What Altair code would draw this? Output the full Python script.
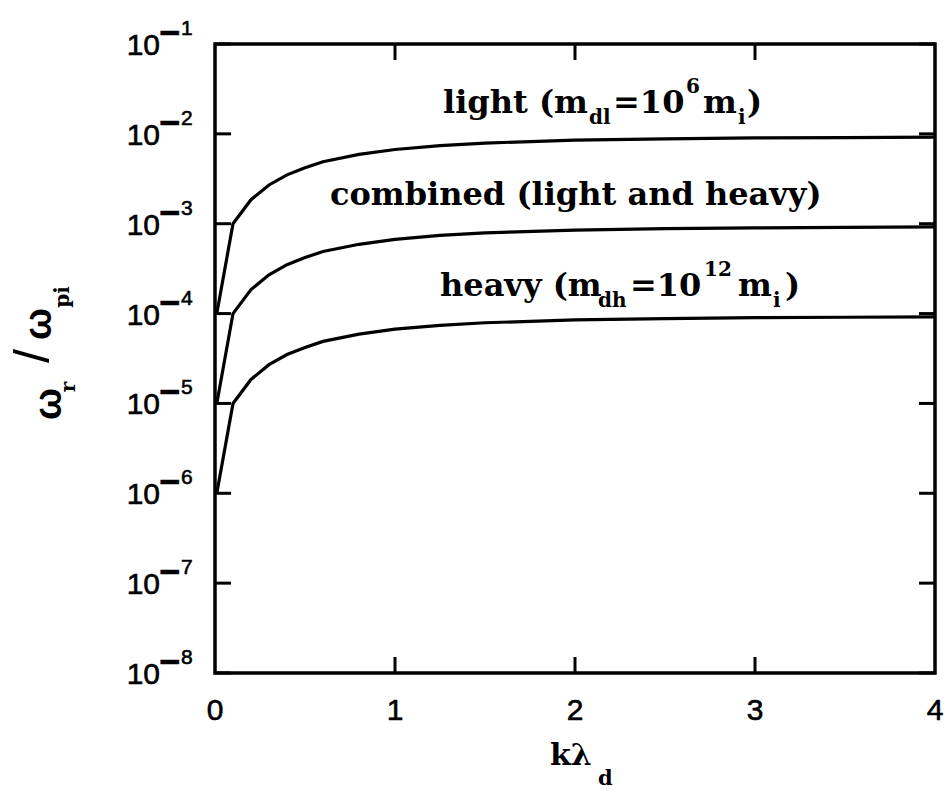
import altair as alt
import pandas as pd

# wave-number grid (k * lambda_d) and real frequency omega_r / omega_pi
k_vals = [0.01, 0.1, 0.2, 0.3, 0.4, 0.5, 0.6, 0.8, 1.0, 1.25, 1.5, 2.0, 2.5, 3.0, 3.5, 4.0]
light = [1.0e-4, 1.0e-3, 1.85e-3, 2.7e-3, 3.5e-3, 4.2e-3, 4.9e-3, 5.9e-3, 6.7e-3,
         7.4e-3, 7.9e-3, 8.5e-3, 8.8e-3, 9.0e-3, 9.1e-3, 9.2e-3]
combined = [1.0e-5, 1.0e-4, 1.85e-4, 2.7e-4, 3.5e-4, 4.2e-4, 4.9e-4, 5.9e-4, 6.7e-4,
            7.4e-4, 7.9e-4, 8.5e-4, 8.8e-4, 9.0e-4, 9.1e-4, 9.2e-4]
heavy = [1.0e-6, 1.0e-5, 1.85e-5, 2.7e-5, 3.5e-5, 4.2e-5, 4.9e-5, 5.9e-5, 6.7e-5,
         7.4e-5, 7.9e-5, 8.5e-5, 8.8e-5, 9.0e-5, 9.1e-5, 9.2e-5]

x_ticks = [0, 1, 2, 3, 4]
y_exponents = [-1, -2, -3, -4, -5, -6, -7, -8]

# curve labels: anchor (k, value) of the text start, and the text pieces
label_anchor_k = [1.267, 0.639, 1.25]
label_anchor_v = [1.71e-2, 1.63e-3, 1.55e-4]
label_pieces = [
    ["light (m", "dl", "=10", "6", "m", "i", ")"],
    ["combined (light and heavy)"],
    ["heavy (m", "dh", "=10", "12", "m", "i", ")"],
]
# role of each piece: main text, subscript or superscript
piece_roles = [
    ["main", "sub", "main", "sup", "main", "sub", "main"],
    ["main"],
    ["main", "sub", "main", "sup", "main", "sub", "main"],
]
piece_dx = [
    [0, 146, 170, 243, 260, 295, 304],
    [0],
    [0, 158, 190, 264, 298, 333, 345],
]

W, H = 720, 629
SERIF = "DejaVu Serif"
SANS = "Liberation Sans"
MAIN_SIZE, SMALL_SIZE = 32, 20
ROLE_DY = {"main": 0, "sub": 11, "sup": -20}

x_scale = alt.Scale(domain=[0, 4], nice=False, zero=False)
y_scale = alt.Scale(type="log", domain=[1e-8, 1e-1], nice=False)

rows = []
for name, vals in (("light", light), ("combined", combined), ("heavy", heavy)):
    for k, v in zip(k_vals, vals):
        rows.append({"k": k, "v": v, "series": name})
curves = pd.DataFrame(rows)

base_x = alt.X("k:Q", scale=x_scale, axis=None)
base_y = alt.Y("v:Q", scale=y_scale, axis=None)

lines = alt.Chart(curves).mark_line(color="black", strokeWidth=3.2).encode(
    x=base_x, y=base_y, detail="series:N"
)

ytick_df = pd.DataFrame({"v": [10.0 ** e for e in y_exponents],
                         "exp": [str(-e) for e in y_exponents]})
xtick_df = pd.DataFrame({"k": x_ticks, "lab": [str(t) for t in x_ticks]})
xinner_df = xtick_df[(xtick_df.k > 0) & (xtick_df.k < 4)]

TICK = 16
tick_style = dict(color="black", strokeWidth=3)
left_ticks = alt.Chart(ytick_df).mark_rule(**tick_style).encode(
    y=base_y, x=alt.value(0), x2=alt.value(TICK))
right_ticks = alt.Chart(ytick_df).mark_rule(**tick_style).encode(
    y=base_y, x=alt.value(W - TICK), x2=alt.value(W))
top_ticks = alt.Chart(xinner_df).mark_rule(**tick_style).encode(
    x=base_x, y=alt.value(0), y2=alt.value(TICK))
bottom_ticks = alt.Chart(xinner_df).mark_rule(**tick_style).encode(
    x=base_x, y=alt.value(H - TICK), y2=alt.value(H))

num_style = dict(font=SANS, color="black", stroke="black", strokeWidth=0.6,
                 baseline="alphabetic")
# "10" with a raised negative exponent
y_base_lab = alt.Chart(ytick_df).mark_text(
    fontSize=30, align="right", dy=11, **num_style
).encode(y=base_y, x=alt.value(-55), text=alt.value("10"))
y_minus_lab = alt.Chart(ytick_df).mark_text(
    fontSize=36, fontWeight="bold", align="left", dy=1, **num_style
).encode(y=base_y, x=alt.value(-56), text=alt.value("\u2212"))
y_exp_lab = alt.Chart(ytick_df).mark_text(
    fontSize=21, align="left", dy=-9, **num_style
).encode(y=base_y, x=alt.value(-34), text="exp:N")

x_lab = alt.Chart(xtick_df).mark_text(
    fontSize=30, align="center", **num_style
).encode(x=base_x, y=alt.value(H + 47), text="lab:N")

layers = [lines, left_ticks, right_ticks, top_ticks, bottom_ticks,
          y_base_lab, y_minus_lab, y_exp_lab, x_lab]

# curve labels built from pieces
for k0, v0, pieces, roles, dxs in zip(label_anchor_k, label_anchor_v,
                                      label_pieces, piece_roles, piece_dx):
    anchor = pd.DataFrame({"k": [k0], "v": [v0]})
    for txt, role, dx in zip(pieces, roles, dxs):
        size = MAIN_SIZE if role == "main" else SMALL_SIZE
        layers.append(
            alt.Chart(anchor).mark_text(
                font=SERIF, fontWeight="bold", fontSize=size, align="left",
                baseline="alphabetic", dx=dx, dy=ROLE_DY[role], color="black"
            ).encode(x=base_x, y=base_y, text=alt.value(txt))
        )

# x-axis title  k lambda_d
dummy = pd.DataFrame({"a": [0]})
layers.append(alt.Chart(dummy).mark_text(
    font=SERIF, fontWeight="bold", fontSize=30, align="left", baseline="alphabetic",
    color="black").encode(x=alt.value(335), y=alt.value(721), text=alt.value("k\u03bb")))
layers.append(alt.Chart(dummy).mark_text(
    font=SERIF, fontWeight="bold", fontSize=21, align="left", baseline="alphabetic",
    color="black").encode(x=alt.value(383), y=alt.value(741), text=alt.value("d")))

# y-axis title  omega_r / omega_pi, rotated
ytitle = [
    ("\u03c9", SANS, 38, "bold", -165, 360),
    ("r", SERIF, 20, "bold", -146, 343),
    ("/", SANS, 50, "normal", -181, 312),
    ("\u03c9", SANS, 38, "bold", -175, 280),
    ("pi", SERIF, 20, "bold", -152, 253),
]
for txt, fnt, size, weight, px, py in ytitle:
    layers.append(alt.Chart(dummy).mark_text(
        font=fnt, fontWeight=weight, fontSize=size, angle=270, align="center",
        baseline="middle", color="black"
    ).encode(x=alt.value(px), y=alt.value(py), text=alt.value(txt)))

chart = alt.layer(*layers).properties(
    width=W, height=H,
    autosize=alt.AutoSizeParams(type="none"),
    padding={"left": 215, "top": 44, "right": 11, "bottom": 117},
    background="white",
).configure_view(stroke="black", strokeWidth=3.5)

chart.save("out.html", embed_options={"renderer": "svg", "actions": False})
